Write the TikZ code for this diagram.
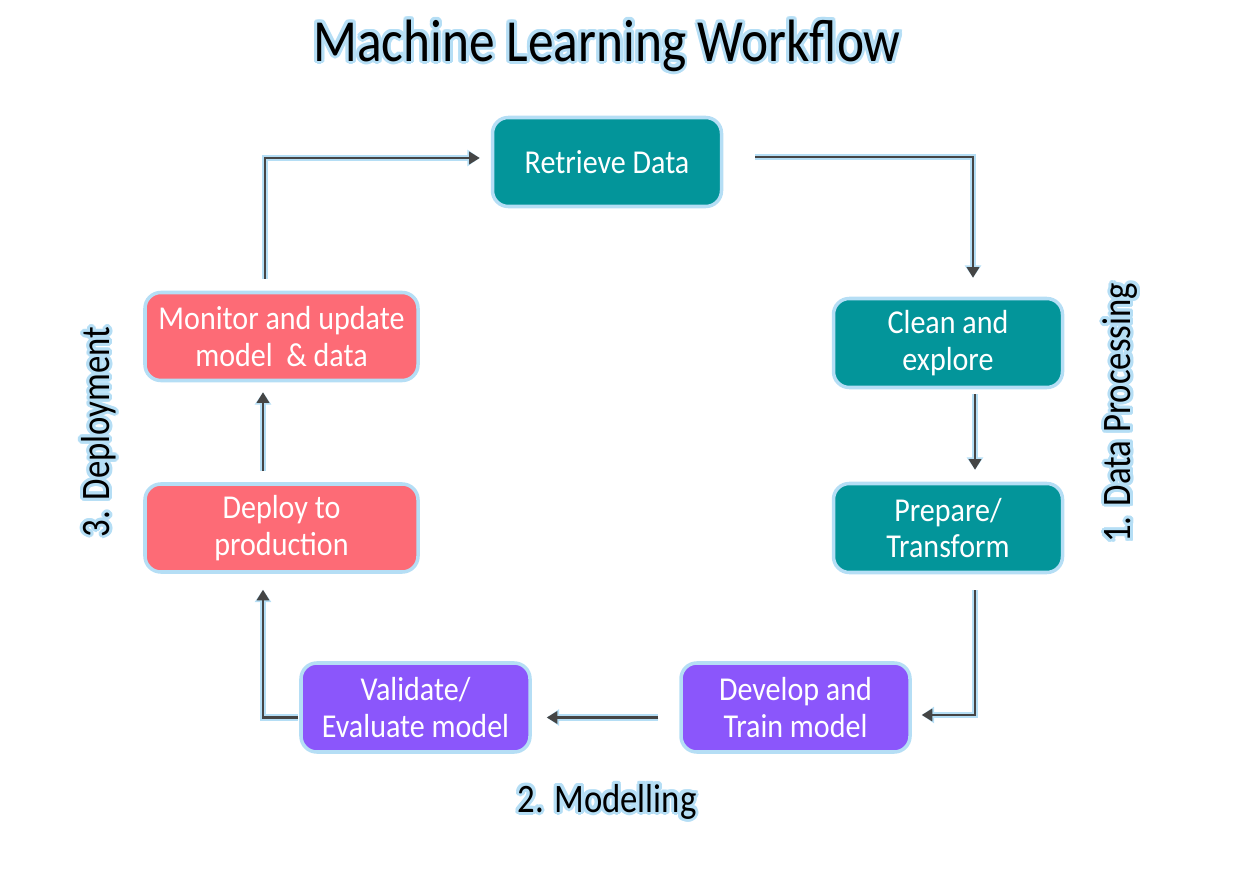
\documentclass[tikz,border=0pt]{standalone}
\usepackage{fontspec}
\setmainfont{Carlito}
\newfontfamily\boxfont[FakeStretch=0.9]{Carlito}
\newfontfamily\labelfont[FakeStretch=0.86]{Carlito}
\usepackage{contour}
\usetikzlibrary{arrows.meta}
\definecolor{halo}{HTML}{B5DEF5}
\definecolor{teal}{HTML}{03959A}
\definecolor{salmon}{HTML}{FD6B76}
\definecolor{violet}{HTML}{8B56FB}
\definecolor{arrowgray}{HTML}{454545}
\contourlength{1.7pt}

\begin{document}
\begin{tikzpicture}[
  step box/.style={draw=halo, line width=2pt, rounded corners=9pt,
    minimum width=4.58cm, minimum height=1.78cm, align=center,
    text=white, font=\boxfont\fontsize{19}{21}\selectfont},
  flow/.style={draw=arrowgray, line width=1.3pt, -{Triangle[length=6pt,width=7pt]},
    preaction={draw=halo, line width=3.6pt, -{Triangle[length=7pt,width=9pt]}}},
  phase/.style={font=\labelfont\fontsize{23}{25}\selectfont}
]
\useasboundingbox (0,0) rectangle (24.92,17.4);

\node[font=\labelfont\fontsize{34}{36}\selectfont] (title) at (12.14,16.46) {\contour{halo}{Machine Learning Workflow}};

% data processing
\node[step box, fill=teal] (retrieve) at (12.14,14.16) {Retrieve Data};
\node[step box, fill=teal] (clean)    at (18.96,10.54) {Clean and\\explore};
\node[step box, fill=teal] (prepare)  at (18.96, 6.84) {Prepare/\\Transform};

% modelling
\node[step box, fill=violet] (develop)  at (15.91,3.25) {Develop and\\Train model};
\node[step box, fill=violet] (validate) at ( 8.31,3.25) {Validate/\\Evaluate model};

% deployment
\node[step box, fill=salmon, minimum width=5.46cm, minimum height=1.76cm] (deploy)  at (5.63, 6.84) {Deploy to\\production};
\node[step box, fill=salmon, minimum width=5.46cm, minimum height=1.76cm] (monitor) at (5.63,10.67) {Monitor and update\\model \ \& data};

\node[phase, rotate=90] (dataproc) at (22.44,9.14) {\contour{halo}{1. Data Processing}};
\node[phase] (modelling) at (12.14,1.34) {\contour{halo}{2. Modelling}};
\node[phase, rotate=90] (deployment) at (2.0,8.76) {\contour{halo}{3. Deployment}};

\draw[flow, shorten <=0.64cm, shorten >=0.38cm] ([yshift=0.1cm]retrieve.east) -| ([xshift=0.5cm]clean.north);
\draw[flow, shorten <=0.1cm, shorten >=0.24cm] ([xshift=0.54cm]clean.south) -- ([xshift=0.54cm]prepare.north);
\draw[flow, shorten <=0.32cm, shorten >=0.2cm] ([xshift=0.54cm]prepare.south) |- ([yshift=-0.15cm]develop.east);
\draw[flow, shorten <=0.42cm, shorten >=0.3cm] ([yshift=-0.2cm]develop.west) -- ([yshift=-0.2cm]validate.east);
\draw[flow, shorten <=0.02cm, shorten >=0.32cm] ([yshift=-0.2cm]validate.west) -| ([xshift=-0.37cm]deploy.south);
\draw[flow, shorten <=0.22cm, shorten >=0.2cm] ([xshift=-0.37cm]deploy.north) -- ([xshift=-0.37cm]monitor.south);
\draw[flow, shorten <=0.24cm, shorten >=0.22cm] ([xshift=-0.33cm]monitor.north) |- ([yshift=0.08cm]retrieve.west);
\end{tikzpicture}
\end{document}
